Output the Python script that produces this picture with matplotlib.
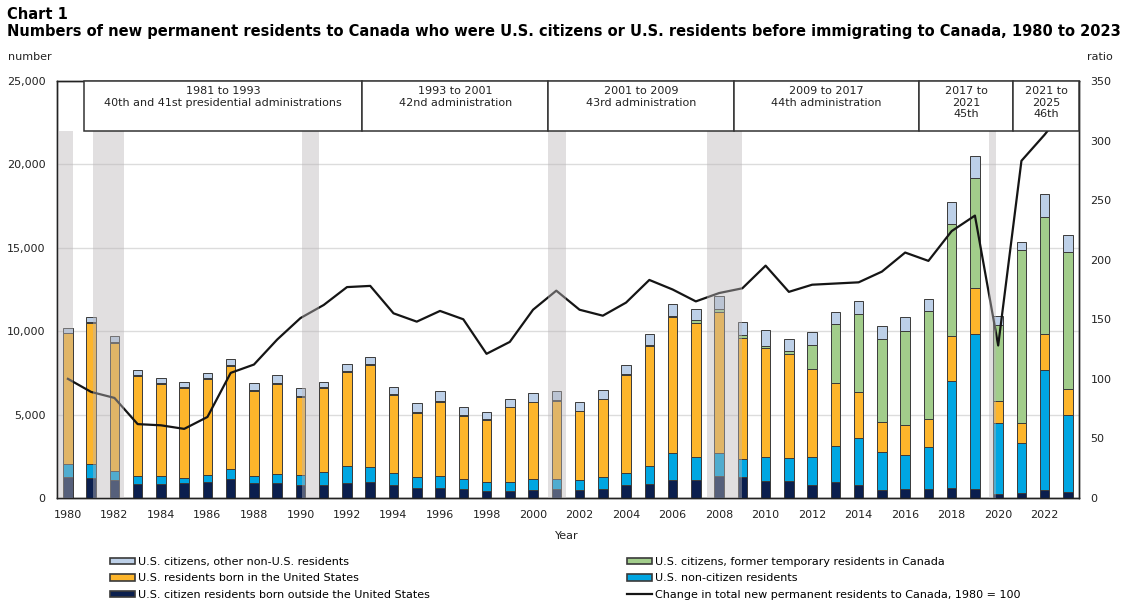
import matplotlib
matplotlib.use("Agg")
import matplotlib.pyplot as plt
from matplotlib.patches import Rectangle, Patch
from matplotlib.lines import Line2D
from matplotlib.ticker import FuncFormatter, MultipleLocator

# Daten
years = list(range(1980, 2024))

# US-Staatsbuerger, im Ausland geboren (unterstes Segment)
cit_born_outside = [1280, 1220, 1080, 840, 840, 880, 960, 1140, 880, 880,
                    780, 780, 880, 940, 780, 620, 620, 540, 420, 420,
                    480, 540, 480, 540, 780, 840, 1080, 1080, 1320, 1240,
                    1020, 1020, 780, 940, 780, 480, 540, 540, 600, 540,
                    240, 280, 480, 340]
non_citizen = [740, 800, 560, 500, 460, 340, 440, 580, 420, 540,
               580, 800, 1060, 940, 700, 660, 720, 580, 560, 560,
               640, 580, 600, 740, 700, 1100, 1600, 1400, 1360, 1080,
               1420, 1360, 1660, 2200, 2840, 2300, 2060, 2540, 6410, 9290,
               4270, 3000, 7190, 4640]
born_in_us = [7860, 8450, 7670, 5990, 5540, 5380, 5750, 6180, 5110, 5430,
              4690, 5000, 5620, 6070, 4700, 3820, 4440, 3820, 3700, 4460,
              4620, 4720, 4120, 4630, 5880, 7160, 8150, 7990, 8450, 7270,
              6540, 6250, 5310, 3740, 2760, 1800, 1800, 1680, 2700, 2740,
              1320, 1240, 2160, 1580]
former_temp = [30, 100, 40, 25, 60, 35, 45, 60, 60, 60,
               60, 50, 50, 60, 30, 30, 60, 60, 80, 30,
               30, 30, 30, 30, 60, 70, 100, 200, 200, 160,
               160, 160, 1440, 3560, 4650, 4980, 5620, 6460, 6720, 6610,
               4520, 10350, 7010, 8190]
other_non_us = [260, 300, 380, 300, 280, 340, 320, 400, 440, 440,
                460, 340, 400, 420, 460, 540, 600, 480, 380, 480,
                500, 540, 540, 540, 580, 660, 700, 660, 780, 800,
                940, 760, 760, 720, 800, 780, 840, 720, 1320, 1300,
                560, 480, 1360, 1040]

# Index der gesamten neuen Daueraufenthalter, 1980 = 100
ratio = [100, 89, 84, 62, 61, 58, 68, 105, 112, 133,
         151, 162, 177, 178, 155, 148, 157, 150, 121, 131,
         158, 174, 158, 153, 164, 183, 175, 165, 172, 176,
         195, 173, 179, 180, 181, 190, 206, 199, 224, 237,
         128, 283, 305, 330]

# Rezessionen (graue Balken)
recessions = [(1979.59, 1980.21), (1981.07, 1982.43), (1990.07, 1990.79),
              (2000.66, 2001.41), (2007.47, 2008.99), (2019.59, 2019.90)]

# Praesidentschaften (Kopfzeilen)
admin_edges = [1980.7, 1992.66, 2000.66, 2008.63, 2016.61, 2020.62, 2023.49]
admin_labels = ["1981 to 1993\n40th and 41st presidential administrations",
                "1993 to 2001\n42nd administration",
                "2001 to 2009\n43rd administration",
                "2009 to 2017\n44th administration",
                "2017 to\n2021\n45th",
                "2021 to\n2025\n46th"]

c_navy = "#0b1f4e"
c_blue = "#00a6e2"
c_orange = "#fdb52b"
c_green = "#a2cd8b"
c_lblue = "#bdd0e8"
edge = "#3a3a3a"

plt.rcParams['font.family'] = ['DejaVu Sans']

fig = plt.figure(figsize=(11.37, 6.07), dpi=100)
ax = fig.add_axes([0.0499, 0.1796, 0.8994, 0.6870])
ax2 = ax.twinx()

# gestapelte Balken
w = 0.41
bottom = [0] * len(years)
for vals, col in [(cit_born_outside, c_navy), (non_citizen, c_blue),
                  (born_in_us, c_orange), (former_temp, c_green),
                  (other_non_us, c_lblue)]:
    ax.bar(years, vals, w, bottom=bottom, color=col, edgecolor=edge,
           linewidth=0.7, zorder=3)
    bottom = [b + v for b, v in zip(bottom, vals)]

ax.set_xlim(1979.52, 2023.49)
ax.set_ylim(0, 25000)
ax.yaxis.set_major_locator(MultipleLocator(5000))
ax.yaxis.set_major_formatter(FuncFormatter(lambda v, p: f"{int(v):,}"))
ax.set_xticks(range(1980, 2023, 2))
ax.grid(axis='y', color='#dcdcdc', linewidth=1, zorder=0)
ax.set_axisbelow(True)
ax.tick_params(length=0, labelsize=8, pad=8, colors='#222222')
ax.tick_params(axis='x', pad=9)

# Verhaeltnislinie
ax2.plot(years, ratio, color='#151515', linewidth=1.6, zorder=4)
ax2.set_ylim(0, 350)
ax2.yaxis.set_major_locator(MultipleLocator(50))
ax2.tick_params(length=0, labelsize=8, pad=8, colors='#222222')

for sp in list(ax.spines.values()) + list(ax2.spines.values()):
    sp.set_color('#222222')
    sp.set_linewidth(1.0)

# graue Rezessionsbaender ueber Balken und Linie
box_bottom = (498 - 131) / 417
for x0, x1 in recessions:
    ax2.axvspan(x0, x1, ymin=0, ymax=box_bottom, facecolor='#bab6b8',
                alpha=0.43, edgecolor='none', zorder=5)

# Kopfzeilen mit den Amtszeiten
trans = ax2.get_xaxis_transform()
for i, lab in enumerate(admin_labels):
    x0, x1 = admin_edges[i], admin_edges[i + 1]
    ax2.add_patch(Rectangle((x0, box_bottom), x1 - x0, 1 - box_bottom,
                            transform=trans, facecolor='white',
                            edgecolor='#333333', linewidth=1.1, zorder=6,
                            clip_on=False))
    ax2.text((x0 + x1) / 2, 0.988, lab, transform=trans, ha='center',
             va='top', fontsize=8, color='#222222', zorder=7,
             linespacing=1.2)

# Titel und Achsenbeschriftungen
fig.text(7 / 1137, 1 - 7 / 607, "Chart 1", fontsize=10.5,
         fontweight='bold', va='top', ha='left')
fig.text(7 / 1137, 1 - 24 / 607,
         "Numbers of new permanent residents to Canada who were U.S. citizens "
         "or U.S. residents before immigrating to Canada, 1980 to 2023",
         fontsize=10.5, fontweight='bold', va='top', ha='left')
fig.text(8 / 1137, 1 - 57 / 607, "number", fontsize=8, va='center',
         ha='left', color='#222222')
fig.text(1087 / 1137, 1 - 57 / 607, "ratio", fontsize=8, va='center',
         ha='left', color='#222222')
fig.text(567 / 1137, 1 - 536 / 607, "Year", fontsize=8, va='center',
         ha='center', color='#222222')

# Legenden
def box(col):
    return Patch(facecolor=col, edgecolor=edge, linewidth=1.2)

leg_kw = dict(loc='upper left', frameon=False, fontsize=8,
              handlelength=2.25, handleheight=0.55, handletextpad=0.3,
              labelspacing=0.58, borderpad=0, borderaxespad=0)
fig.legend([box(c_lblue), box(c_orange), box(c_navy)],
           ["U.S. citizens, other non-U.S. residents",
            "U.S. residents born in the United States",
            "U.S. citizen residents born outside the United States"],
           bbox_to_anchor=(110 / 1137, 1 - 557 / 607), **leg_kw)
fig.legend([box(c_green), box(c_blue),
            Line2D([0], [0], color='#151515', linewidth=1.6)],
           ["U.S. citizens, former temporary residents in Canada",
            "U.S. non-citizen residents",
            "Change in total new permanent residents to Canada, 1980 = 100"],
           bbox_to_anchor=(627 / 1137, 1 - 557 / 607), **leg_kw)

fig.savefig("out.png", dpi=100)
